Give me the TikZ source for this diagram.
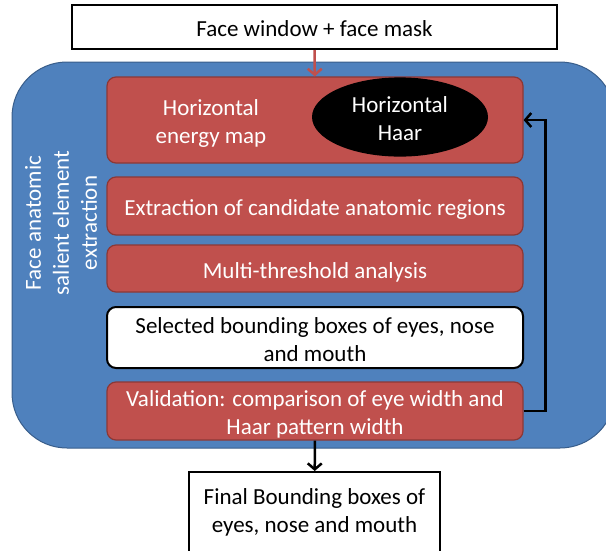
\documentclass[tikz,border=0pt]{standalone}
\usepackage{fontspec}
\setmainfont{Carlito}
\usetikzlibrary{arrows.meta,shapes.geometric}
\definecolor{stageblue}{HTML}{4F81BD}
\definecolor{stageedge}{HTML}{385D8A}
\definecolor{stepred}{HTML}{C0504D}
\definecolor{stepedge}{HTML}{8C3836}
% centred block of lines, drawn a little below the box centre
\newcommand{\dn}[1]{\raisebox{-4pt}[\height][\depth]{\begin{tabular}{@{}c@{}}#1\end{tabular}}}
\tikzset{
  txt/.style={font=\fontsize{23}{28}\selectfont, align=center, inner sep=0pt},
  container/.style={draw=stageedge, line width=1pt, fill=stageblue, rounded corners=55pt},
  redstep/.style={txt, draw=stepedge, line width=1.2pt, fill=stepred, text=white,
    rounded corners=9pt, minimum width=416pt},
  whitestep/.style={txt, draw=black, line width=2pt, fill=white, text=black,
    rounded corners=9pt, minimum width=416pt},
  plainbox/.style={txt, draw=black, line width=2pt, fill=white, text=black},
  blob/.style={txt, ellipse, fill=black, text=white, minimum width=176pt, minimum height=60pt},
  flow/.style={line width=2.5pt, -{Straight Barb[length=6pt,width=14pt,line width=2.5pt]}},
}
\begin{document}
\begin{tikzpicture}[x=1pt,y=-1pt]
\useasboundingbox (0,0) rectangle (606,550);
\clip (0,0) rectangle (606,550);

% input
\node (input) [plainbox, minimum width=485pt, minimum height=44pt] at (314.5,27) {\dn{Face window + face mask}};

% extraction stage container
\node (stage) [container, minimum width=603pt, minimum height=386pt] at (313.5,255) {};
\node (stagelabel) [txt, text=white, rotate=90] at (61,223) {Face anatomic\\salient element\\extraction};

% processing steps
\node (energy) [redstep, minimum height=86pt] at (315,120) {};
\node (energytxt) [txt, text=white] at (211,120) {\dn{Horizontal\\energy map}};
\node (haar) [blob] at (400,117) {\dn{Horizontal\\Haar}};
\node (cand) [redstep, minimum height=58pt] at (315,206) {\dn{Extraction of candidate anatomic regions}};
\node (thresh) [redstep, minimum height=47pt] at (315,268.5) {\dn{Multi-threshold analysis}};
\node (select) [whitestep, minimum height=61pt] at (315,337.5) {\dn{Selected bounding boxes of eyes, nose\\and mouth}};
\node (valid) [redstep, minimum height=58pt] at (315,411) {\dn{Validation: comparison of eye width and\\Haar pattern width}};

% output
\node (final) [plainbox, minimum width=251pt, minimum height=90pt] at (314.5,517) {};
\node (finaltxt) [txt] at (314.5,509) {\dn{Final Bounding boxes of\\eyes, nose and mouth}};

% connectors
\draw[flow, draw=stepred] (input) -- (energy);
\draw[flow] (valid) -- (final);
\draw[flow, rounded corners=0pt] (valid.east) -- ++(22,0) |- (energy.east);
\end{tikzpicture}
\end{document}
